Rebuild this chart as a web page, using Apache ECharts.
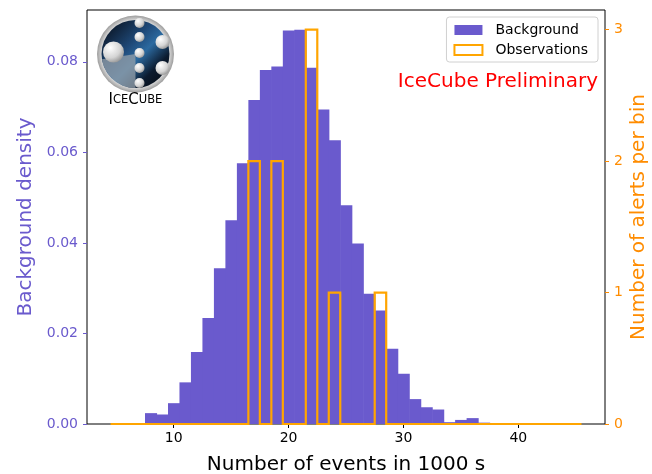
<!DOCTYPE html>
<html>
<head>
<meta charset="utf-8">
<script src="https://cdn.jsdelivr.net/npm/echarts@6/dist/echarts.min.js"></script>
<style>
  html, body { margin: 0; padding: 0; background: #fff; }
  #chart { width: 652px; height: 474px; }
</style>
</head>
<body>
<div id="chart"></div>
<script>
// Bin centres (bins are 1 event wide)
const binCenters = [5, 6, 7, 8, 9, 10, 11, 12, 13, 14, 15, 16, 17, 18, 19, 20, 21, 22, 23, 24, 25,
  26, 27, 28, 29, 30, 31, 32, 33, 34, 35, 36, 37, 38, 39, 40, 41, 42, 43, 44, 45];
// Background density per bin
const backgroundDensity = [0, 0, 0, 0.0024, 0.0021, 0.0046, 0.0092, 0.0159, 0.0234, 0.0344, 0.0450,
  0.0576, 0.0716, 0.0782, 0.0790, 0.0869, 0.0871, 0.0787, 0.0695, 0.0627, 0.0483,
  0.0399, 0.0288, 0.0251, 0.0166, 0.0111, 0.0055, 0.0037, 0.0032, 0.0004, 0.0009,
  0.0013, 0.0003, 0, 0, 0, 0, 0, 0, 0, 0];
// Observed alerts per bin
const observedCounts = [0, 0, 0, 0, 0, 0, 0, 0, 0, 0, 0, 0, 2, 0, 2, 0, 0, 3, 0, 1, 0,
  0, 0, 1, 0, 0, 0, 0, 0, 0, 0, 0, 0, 0, 0, 0, 0, 0, 0, 0, 0];
const xTicks = [10, 20, 30, 40];
const densityTicks = [0, 0.02, 0.04, 0.06, 0.08];
const countTicks = [0, 1, 2, 3];

const binWidth = 1;
const PURPLE = '#6a5acd';
const ORANGE = '#ffa500';
const DARK_ORANGE = '#ff8c00';
const FONT = 'DejaVu Sans';

// Outline of the observation histogram (step style)
const stepPoints = [[binCenters[0] - binWidth / 2, 0]];
binCenters.forEach((c, i) => {
  stepPoints.push([c - binWidth / 2, observedCounts[i]]);
  stepPoints.push([c + binWidth / 2, observedCounts[i]]);
});
stepPoints.push([binCenters[binCenters.length - 1] + binWidth / 2, 0]);

const xMin = binCenters[0] - binWidth / 2;
const xMax = binCenters[binCenters.length - 1] + binWidth / 2;
const xPad = (xMax - xMin) * 0.05;
const densityMax = Math.max(...backgroundDensity) * 1.05;
const countMax = Math.max(...observedCounts) * 1.05;

// IceCube logo badge
const logoCx = 135.5, logoCy = 54, logoR = 38.5;
function sphere(x, y, r) {
  return {
    type: 'circle', shape: { cx: x, cy: y, r: r }, z: 102,
    style: {
      fill: new echarts.graphic.RadialGradient(0.35, 0.3, 0.8, [
        { offset: 0, color: '#ffffff' }, { offset: 0.6, color: '#d4d4d4' }, { offset: 1, color: '#8a8a8a' }
      ])
    }
  };
}
const logo = [
  { type: 'circle', shape: { cx: logoCx, cy: logoCy, r: logoR }, z: 100,
    style: { fill: new echarts.graphic.RadialGradient(0.5, 0.5, 0.5, [
      { offset: 0.85, color: '#e6e6e6' }, { offset: 1, color: '#9c9c9c' }]) } },
  { type: 'circle', shape: { cx: logoCx, cy: logoCy, r: logoR - 4.5 }, z: 101,
    style: { fill: new echarts.graphic.LinearGradient(0, 0, 1, 1, [
      { offset: 0, color: '#05070d' }, { offset: 0.4, color: '#1f4a7a' },
      { offset: 0.55, color: '#2c6aa0' }, { offset: 0.75, color: '#0b1a2e' }, { offset: 1, color: '#04060a' }]) } },
  { type: 'sector', shape: { cx: logoCx, cy: logoCy, r: logoR - 4.5, r0: 0, startAngle: Math.PI * 0.5, endAngle: Math.PI * 0.95 }, z: 101,
    style: { fill: 'rgba(150,160,170,0.75)' } },
  sphere(logoCx - 22, logoCy - 2, 10.5),
  sphere(logoCx + 4, logoCy - 31, 5),
  sphere(logoCx + 4, logoCy - 17, 5),
  sphere(logoCx + 4, logoCy - 1, 5),
  sphere(logoCx + 4, logoCy + 14, 5),
  sphere(logoCx + 4, logoCy + 29, 5),
  sphere(logoCx + 27, logoCy - 12, 7),
  sphere(logoCx + 27, logoCy + 14, 7),
  { type: 'text', x: logoCx, y: 100, z: 103,
    style: {
      text: '{b|I}{s|CE}{b|C}{s|UBE}', align: 'center', verticalAlign: 'middle',
      rich: {
        b: { fontFamily: FONT, fontSize: 15, fill: '#000' },
        s: { fontFamily: FONT, fontSize: 11.5, fill: '#000' }
      }
    } }
];

const chart = echarts.init(document.getElementById('chart'), null, { renderer: 'canvas' });
chart.setOption({
  animation: false,
  backgroundColor: '#fff',
  textStyle: { fontFamily: FONT },
  grid: { left: 87, right: 47, top: 10, bottom: 50, outerBoundsMode: 'none', containLabel: false,
    show: true, borderColor: '#000', borderWidth: 1, backgroundColor: 'transparent' },
  legend: {
    orient: 'vertical', right: 54, top: 17, padding: [6, 10, 5, 7], itemGap: 6,
    itemWidth: 28, itemHeight: 10,
    backgroundColor: 'rgba(255,255,255,0.8)', borderColor: '#d0d0d0', borderWidth: 1, borderRadius: 3,
    textStyle: { fontFamily: FONT, fontSize: 14, color: '#000', padding: [0, 0, 0, 8] },
    data: [
      { name: 'Background', icon: 'rect', itemStyle: { color: PURPLE, borderWidth: 0 } },
      { name: 'Observations', icon: 'rect', itemStyle: { color: '#fff', borderColor: ORANGE, borderWidth: 2 }, lineStyle: { width: 0 } }
    ]
  },
  xAxis: {
    type: 'value', min: xMin - xPad, max: xMax + xPad,
    name: 'Number of events in 1000 s', nameLocation: 'middle', nameGap: 31,
    nameTextStyle: { fontFamily: FONT, fontSize: 20, color: '#000' },
    axisLine: { show: false }, splitLine: { show: false },
    axisTick: { show: true, length: 4, customValues: xTicks, lineStyle: { color: '#000' } },
    axisLabel: { customValues: xTicks, fontFamily: FONT, fontSize: 14, color: '#000', margin: 7 }
  },
  yAxis: [
    {
      type: 'value', min: 0, max: densityMax, position: 'left',
      name: 'Background density', nameLocation: 'middle', nameGap: 46, nameRotate: 90,
      nameTextStyle: { fontFamily: FONT, fontSize: 20, color: PURPLE },
      axisLine: { show: false }, splitLine: { show: false },
      axisTick: { show: true, length: 4, customValues: densityTicks, lineStyle: { color: PURPLE } },
      axisLabel: { customValues: densityTicks, fontFamily: FONT, fontSize: 14, color: PURPLE, margin: 9,
        formatter: v => v.toFixed(2) }
    },
    {
      type: 'value', min: 0, max: countMax, position: 'right',
      name: 'Number of alerts per bin', nameLocation: 'middle', nameGap: 24, nameRotate: 90,
      nameMoveOverlap: false,
      nameTextStyle: { fontFamily: FONT, fontSize: 20, color: DARK_ORANGE },
      axisLine: { show: false }, splitLine: { show: false },
      axisTick: { show: true, length: 4, customValues: countTicks, lineStyle: { color: DARK_ORANGE } },
      axisLabel: { customValues: countTicks, fontFamily: FONT, fontSize: 14, color: DARK_ORANGE, margin: 9 }
    }
  ],
  graphic: logo.concat([
    { type: 'text', right: 54, top: 72, z: 50,
      style: { text: 'IceCube Preliminary', fontFamily: FONT, fontSize: 20, fill: '#ff0000' } }
  ]),
  series: [
    {
      name: 'Background', type: 'custom', xAxisIndex: 0, yAxisIndex: 0, z: 2,
      itemStyle: { color: PURPLE },
      data: binCenters.map((c, i) => [c, backgroundDensity[i]]),
      renderItem: function (params, api) {
        const c = api.value(0), v = api.value(1);
        if (!(v > 0)) return null;
        const p0 = api.coord([c - binWidth / 2, v]);
        const p1 = api.coord([c + binWidth / 2, 0]);
        // slight overlap so neighbouring bars join without seams
        return {
          type: 'rect',
          shape: { x: p0[0], y: p0[1], width: p1[0] - p0[0] + 0.6, height: p1[1] - p0[1] },
          style: { fill: PURPLE }
        };
      }
    },
    {
      name: 'Observations', type: 'line', xAxisIndex: 0, yAxisIndex: 1, z: 3,
      data: stepPoints, symbol: 'none', showSymbol: false,
      lineStyle: { color: ORANGE, width: 2.2, join: 'miter' },
      itemStyle: { color: ORANGE }
    }
  ]
});
</script>
</body>
</html>
